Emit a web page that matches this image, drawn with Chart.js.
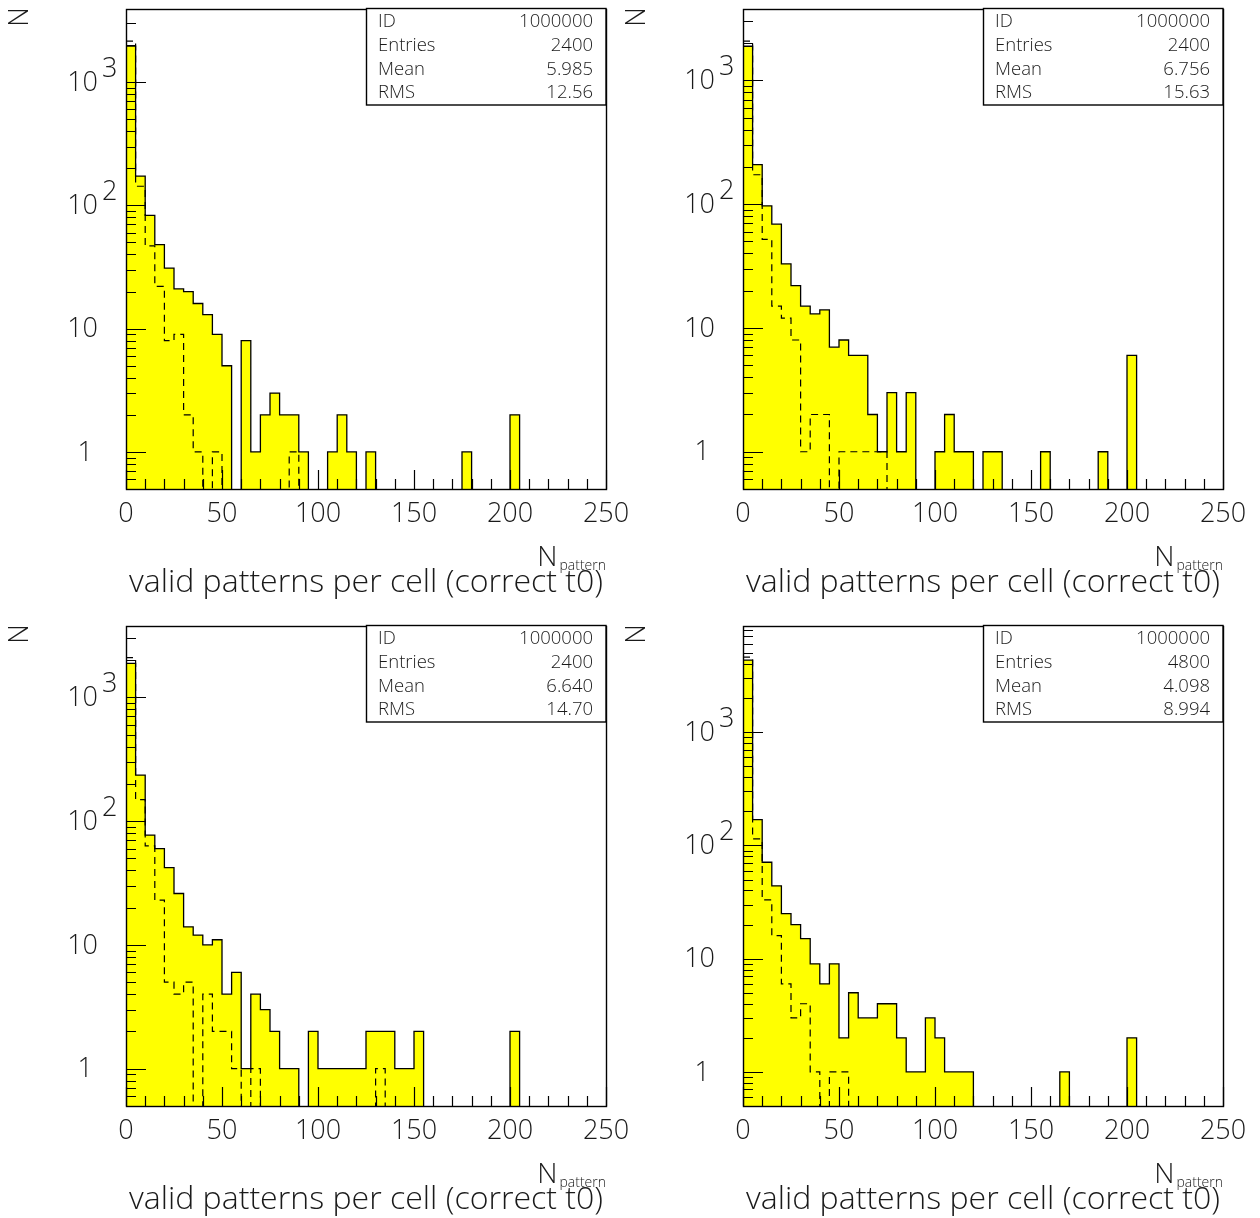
<!DOCTYPE html>
<html lang="en">
<head>
    <meta charset="UTF-8">
    <title>valid patterns per cell (correct t0)</title>
    <script src="https://cdn.jsdelivr.net/npm/chart.js"></script>
    <style>
        body {
            margin: 0;
            background: #ffffff;
            width: 1260px;
            height: 1218px;
            position: relative;
            overflow: hidden;
        }

        .panel {
            position: absolute;
            width: 630px;
            height: 601px;
        }
    </style>
</head>
<body>
    <div class="panel" style="left: 0; top: 0;"><canvas id="h1" width="630" height="601"></canvas></div>
    <div class="panel" style="left: 617px; top: 0;"><canvas id="h2" width="630" height="601"></canvas></div>
    <div class="panel" style="left: 0; top: 617px;"><canvas id="h3" width="630" height="601"></canvas></div>
    <div class="panel" style="left: 617px; top: 617px;"><canvas id="h4" width="630" height="601"></canvas></div>

    <script>
        // binning: 50 bins of width 5 from 0 to 250
        const nBins = 50;
        const binWidth = 5;
        const binEdges = Array.from({ length: nBins + 1 }, (_, i) => i * binWidth);
        const xTickLabels = [0, 50, 100, 150, 200, 250];
        const yDecades = [1, 10, 100, 1000];
        const statNames = ['ID', 'Entries', 'Mean', 'RMS'];
        const xTitle = 'N';
        const xTitleSub = 'pattern';
        const bottomTitle = 'valid patterns per cell (correct t0)';
        const yTitle = 'N';

        // top left
        const solid1 = [1960, 173, 83, 48, 31, 21, 20, 16, 13, 9,
                        5, 0, 8, 1, 2, 3, 2, 2, 1, 0,
                        0, 1, 2, 1, 0, 1, 0, 0, 0, 0,
                        0, 0, 0, 0, 0, 1, 0, 0, 0, 0,
                        2, 0, 0, 0, 0, 0, 0, 0, 0, 0];
        const dashed1 = [2150, 143, 47, 22, 8, 9, 2, 1, 0, 1,
                         0, 0, 0, 0, 0, 0, 0, 1, 0, 0,
                         0, 0, 0, 0, 0, 0, 0, 0, 0, 0,
                         0, 0, 0, 0, 0, 0, 0, 0, 0, 0,
                         0, 0, 0, 0, 0, 0, 0, 0, 0, 0];
        const stats1 = ['1000000', '2400', '5.985', '12.56'];

        // top right
        const solid2 = [1890, 209, 97, 69, 33, 22, 15, 13, 14, 7,
                        8, 6, 6, 2, 1, 3, 1, 3, 0, 0,
                        1, 2, 1, 1, 0, 1, 1, 0, 0, 0,
                        0, 1, 0, 0, 0, 0, 0, 1, 0, 0,
                        6, 0, 0, 0, 0, 0, 0, 0, 0, 0];
        const dashed2 = [2080, 173, 52, 15, 12, 8, 1, 2, 2, 0,
                         1, 1, 1, 1, 1, 0, 0, 0, 0, 0,
                         0, 0, 0, 0, 0, 0, 0, 0, 0, 0,
                         0, 0, 0, 0, 0, 0, 0, 0, 0, 0,
                         0, 0, 0, 0, 0, 0, 0, 0, 0, 0];
        const stats2 = ['1000000', '2400', '6.756', '15.63'];

        // bottom left
        const solid3 = [1880, 235, 77, 60, 42, 26, 14, 12, 10, 11,
                        4, 6, 1, 4, 3, 2, 1, 1, 0, 2,
                        1, 1, 1, 1, 1, 2, 2, 2, 1, 1,
                        2, 0, 0, 0, 0, 0, 0, 0, 0, 0,
                        2, 0, 0, 0, 0, 0, 0, 0, 0, 0];
        const dashed3 = [2085, 149, 63, 23, 5, 4, 5, 0, 4, 2,
                         2, 1, 0, 1, 0, 0, 0, 0, 0, 0,
                         0, 0, 0, 0, 0, 0, 1, 0, 0, 0,
                         0, 0, 0, 0, 0, 0, 0, 0, 0, 0,
                         0, 0, 0, 0, 0, 0, 0, 0, 0, 0];
        const stats3 = ['1000000', '2400', '6.640', '14.70'];

        // bottom right
        const solid4 = [4330, 169, 71, 44, 25, 20, 15, 9, 6, 9,
                        2, 5, 3, 3, 4, 4, 2, 1, 1, 3,
                        2, 1, 1, 1, 0, 0, 0, 0, 0, 0,
                        0, 0, 0, 1, 0, 0, 0, 0, 0, 0,
                        2, 0, 0, 0, 0, 0, 0, 0, 0, 0];
        const dashed4 = [4600, 114, 33, 16, 6, 3, 4, 1, 0, 1,
                         1, 0, 0, 0, 0, 0, 0, 0, 0, 0,
                         0, 0, 0, 0, 0, 0, 0, 0, 0, 0,
                         0, 0, 0, 0, 0, 0, 0, 0, 0, 0,
                         0, 0, 0, 0, 0, 0, 0, 0, 0, 0];
        const stats4 = ['1000000', '4800', '4.098', '8.994'];

        const FONT = "'Open Sans', 'DejaVu Sans', sans-serif";
        const INK = '#1a1a1a';
        const EMPTY_BIN = 0.1; // empty bins drop below the log axis minimum

        // one point per left bin edge, plus the right edge of the last bin
        function toSteps(values) {
            return binEdges.map((x, i) => {
                const v = values[Math.min(i, values.length - 1)];
                return { x: x, y: v > 0 ? v : EMPTY_BIN };
            });
        }

        // PAW-like frame, inward ticks, labels and stats box
        const pawAxes = {
            id: 'pawAxes',
            afterDraw(chart, args, opts) {
                const ctx = chart.ctx;
                const area = chart.chartArea;
                const xs = chart.scales.x;
                const ys = chart.scales.y;
                ctx.save();
                ctx.strokeStyle = '#000';
                ctx.lineWidth = 1.2;

                // y ticks
                ctx.beginPath();
                for (let e = -1; e <= 4; e++) {
                    for (let m = 1; m <= 9; m++) {
                        const v = m * Math.pow(10, e);
                        if (v < ys.min || v > ys.max) continue;
                        const y = Math.round(ys.getPixelForValue(v)) + 0.5;
                        const len = m === 1 ? 20 : 10;
                        ctx.moveTo(area.left, y);
                        ctx.lineTo(area.left + len, y);
                    }
                }
                // x ticks
                for (let v = 0; v <= 250; v += 10) {
                    const x = Math.round(xs.getPixelForValue(v)) + 0.5;
                    const len = v % 50 === 0 ? 19 : 10;
                    ctx.moveTo(x, area.bottom);
                    ctx.lineTo(x, area.bottom - len);
                }
                ctx.stroke();

                // frame
                ctx.lineWidth = 1.4;
                ctx.strokeRect(area.left + 0.5, area.top + 0.5, area.right - area.left, area.bottom - area.top);

                ctx.fillStyle = INK;
                ctx.font = '300 27px ' + FONT;

                // x tick labels
                ctx.textAlign = 'center';
                ctx.textBaseline = 'middle';
                xTickLabels.forEach(v => {
                    ctx.fillText(String(v), xs.getPixelForValue(v), area.bottom + 25);
                });

                // y tick labels (10^n with raised exponent)
                yDecades.forEach(v => {
                    const y = ys.getPixelForValue(v);
                    ctx.font = '300 27px ' + FONT;
                    ctx.textAlign = 'right';
                    ctx.textBaseline = 'middle';
                    if (v < 100) {
                        ctx.fillText(String(v), area.left - (v === 1 ? 33 : 28), y + 1);
                    } else {
                        ctx.fillText('10', area.left - 28, y + 1);
                        ctx.textAlign = 'left';
                        ctx.fillText(String(Math.round(Math.log10(v))), area.left - 24, y - 13);
                    }
                });

                // x axis title with subscript
                ctx.textAlign = 'right';
                ctx.textBaseline = 'alphabetic';
                ctx.font = '300 14px ' + FONT;
                const subW = ctx.measureText(xTitleSub).width;
                ctx.fillText(xTitleSub, area.right, area.bottom + 81);
                ctx.font = '300 28px ' + FONT;
                ctx.fillText(xTitle, area.right - subW - 2, area.bottom + 77);

                // bottom title, sized to span the frame
                ctx.font = '300 27px ' + FONT;
                const w = ctx.measureText(bottomTitle).width;
                const size = 27 * 475 / w;
                ctx.font = '300 ' + size.toFixed(1) + 'px ' + FONT;
                ctx.textAlign = 'center';
                ctx.textBaseline = 'middle';
                ctx.fillText(bottomTitle, (area.left + area.right) / 2, area.bottom + 94);

                // y axis title, rotated
                ctx.save();
                ctx.translate(20, 17);
                ctx.rotate(-Math.PI / 2);
                ctx.font = '300 27px ' + FONT;
                ctx.textAlign = 'center';
                ctx.textBaseline = 'middle';
                ctx.fillText(yTitle, 0, 0);
                ctx.restore();

                // stats box
                const bx = area.right - 239.5;
                const by = area.top - 0.5;
                ctx.fillStyle = '#fff';
                ctx.fillRect(bx, by, 239.5, 96.5);
                ctx.strokeStyle = '#000';
                ctx.lineWidth = 1.4;
                ctx.strokeRect(bx, by, 239.5, 96.5);
                ctx.fillStyle = INK;
                ctx.font = '300 18.5px ' + FONT;
                ctx.textBaseline = 'middle';
                statNames.forEach((name, i) => {
                    const ty = area.top + 13 + i * 23.7;
                    ctx.textAlign = 'left';
                    ctx.fillText(name, bx + 11.5, ty);
                    ctx.textAlign = 'right';
                    ctx.fillText(opts.stats[i], area.right - 13, ty);
                });
                ctx.restore();
            }
        };

        function drawHistogram(id, solid, dashed, stats) {
            const yMax = 2 * Math.max(...solid);
            return new Chart(document.getElementById(id), {
                type: 'line',
                data: {
                    datasets: [{
                        data: toSteps(dashed),
                        borderColor: '#000',
                        borderWidth: 1.2,
                        borderDash: [7, 5],
                        stepped: true,
                        pointRadius: 0,
                        fill: false
                    }, {
                        data: toSteps(solid),
                        borderColor: '#000',
                        borderWidth: 1.3,
                        backgroundColor: '#ffff00',
                        stepped: true,
                        pointRadius: 0,
                        fill: 'start'
                    }]
                },
                options: {
                    responsive: false,
                    animation: false,
                    events: [],
                    layout: { padding: { left: 126, top: 9, right: 24, bottom: 112 } },
                    plugins: {
                        legend: { display: false },
                        tooltip: { enabled: false },
                        pawAxes: { stats: stats }
                    },
                    scales: {
                        x: { type: 'linear', min: 0, max: 250, display: false },
                        y: { type: 'logarithmic', min: 0.5, max: yMax, display: false }
                    }
                },
                plugins: [pawAxes]
            });
        }

        drawHistogram('h1', solid1, dashed1, stats1);
        drawHistogram('h2', solid2, dashed2, stats2);
        drawHistogram('h3', solid3, dashed3, stats3);
        drawHistogram('h4', solid4, dashed4, stats4);
    </script>
</body>
</html>
